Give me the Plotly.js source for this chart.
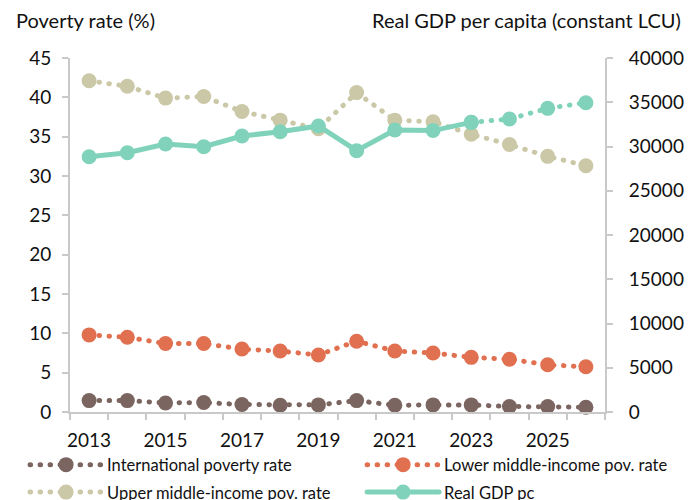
<!DOCTYPE html>
<html>
<head>
<meta charset="utf-8">
<script src="https://cdn.plot.ly/plotly-3.0.1.min.js"></script>
<style>
  html, body { margin: 0; padding: 0; background: #fff; }
  #chart { width: 698px; height: 500px; }
  path.js-line { stroke-linecap: round; }
</style>
</head>
<body>
<div id="chart"></div>
<script>
const years = [2013, 2014, 2015, 2016, 2017, 2018, 2019, 2020, 2021, 2022, 2023, 2024, 2025, 2026];
const intlPov = [1.45, 1.45, 1.15, 1.2, 0.95, 0.85, 0.9, 1.45, 0.85, 0.9, 0.9, 0.7, 0.7, 0.6];
const lowerMidPov = [9.8, 9.5, 8.7, 8.7, 8.0, 7.75, 7.25, 9.0, 7.75, 7.5, 6.95, 6.7, 6.0, 5.75];
const upperMidPov = [42.1, 41.4, 39.9, 40.1, 38.2, 37.1, 36.0, 40.6, 37.1, 36.9, 35.3, 34.0, 32.5, 31.3];
const gdpPc = [28850, 29300, 30280, 29980, 31190, 31670, 32320, 29530, 31860, 31800, 32730, 33110, 34310, 34950];
const lastActualYear = 2023;
const xTickYears = [2013, 2015, 2017, 2019, 2021, 2023, 2025];
const yLeftTicks = [0, 5, 10, 15, 20, 25, 30, 35, 40, 45];
const yRightTicks = [0, 5000, 10000, 15000, 20000, 25000, 30000, 35000, 40000];
const names = ['International poverty rate', 'Lower middle-income pov. rate', 'Upper middle-income pov. rate', 'Real GDP pc'];
const leftTitle = 'Poverty rate (%)';
const rightTitle = 'Real GDP per capita (constant LCU)';

const colors = { intl: '#7b6560', lower: '#e07050', upper: '#cbc8a8', gdp: '#80d3ba' };
const DOT = '0.5px,9.5px';
const FONT = 'Lato, "Open Sans", sans-serif';

const cut = years.indexOf(lastActualYear);
const actYears = years.slice(0, cut + 1), actGdp = gdpPc.slice(0, cut + 1);
const fcYears = years.slice(cut), fcGdp = gdpPc.slice(cut);

function dotted(y, name, color, legend, group) {
  return {
    x: years, y: y, name: name, type: 'scatter', mode: 'lines+markers', yaxis: 'y',
    legend: legend, legendgroup: group,
    line: { color: color, width: 5, dash: DOT },
    marker: { color: color, size: 15 },
    cliponaxis: false
  };
}

const traces = [
  dotted(intlPov, names[0], colors.intl, 'legend', 'a'),
  dotted(lowerMidPov, names[1], colors.lower, 'legend2', 'c'),
  dotted(upperMidPov, names[2], colors.upper, 'legend', 'b'),
  {
    x: actYears, y: actGdp, name: names[3], type: 'scatter', mode: 'lines+markers', yaxis: 'y2',
    legend: 'legend2', legendgroup: 'd',
    line: { color: colors.gdp, width: 5 }, marker: { color: colors.gdp, size: 15 }, cliponaxis: false
  },
  {
    x: fcYears, y: fcGdp, name: names[3], showlegend: false, type: 'scatter', mode: 'lines+markers', yaxis: 'y2',
    legend: 'legend2', legendgroup: 'd',
    line: { color: colors.gdp, width: 5, dash: DOT }, marker: { color: colors.gdp, size: 15 }, cliponaxis: false
  }
];

const axisGray = '#c9c9c9';
const legendBase = {
  orientation: 'v', xanchor: 'left', y: -0.1, yanchor: 'top',
  font: { size: 16.5, color: '#111' }, itemwidth: 72, tracegroupgap: 3,
  bgcolor: 'rgba(0,0,0,0)', traceorder: 'grouped'
};
const layout = {
  width: 698, height: 500,
  margin: { l: 70, r: 93, t: 58, b: 88, autoexpand: false },
  paper_bgcolor: '#fff', plot_bgcolor: '#fff',
  font: { family: FONT, size: 19, color: '#111' },
  showlegend: true,
  xaxis: {
    range: [2012.5, 2026.5], tickmode: 'array', tickvals: xTickYears, ticktext: xTickYears.map(String),
    ticks: '', ticklabelstandoff: 10, showgrid: false, zeroline: false, showline: true, linecolor: axisGray, linewidth: 2,
    minor: { tickmode: 'linear', tick0: 2012.5, dtick: 1, ticks: 'outside', ticklen: 6, tickwidth: 2, tickcolor: axisGray, showgrid: false },
    tickfont: { size: 19 }
  },
  yaxis: {
    range: [0, 45], tickmode: 'array', tickvals: yLeftTicks, ticks: 'outside', ticklen: 6, tickwidth: 2, tickcolor: axisGray,
    ticklabelstandoff: 7,
    showgrid: false, zeroline: false, showline: true, linecolor: axisGray, linewidth: 2, tickfont: { size: 19 }
  },
  yaxis2: {
    range: [0, 40000], overlaying: 'y', side: 'right', tickmode: 'array', tickvals: yRightTicks, tickformat: 'd',
    ticks: 'outside', ticklen: 6, tickwidth: 2, tickcolor: axisGray, ticklabelstandoff: 12,
    showgrid: false, zeroline: false, showline: true, linecolor: axisGray, linewidth: 2, tickfont: { size: 19 }
  },
  legend: Object.assign({}, legendBase, { x: -0.084 }),
  legend2: Object.assign({}, legendBase, { x: 0.546 }),
  annotations: [
    { text: leftTitle, xref: 'paper', yref: 'paper', x: -0.105, y: 1.107, xanchor: 'left', yanchor: 'middle', showarrow: false, font: { size: 20, color: '#111' } },
    { text: rightTitle, xref: 'paper', yref: 'paper', x: 1.146, y: 1.107, xanchor: 'right', yanchor: 'middle', showarrow: false, font: { size: 20, color: '#111' } }
  ]
};

Plotly.newPlot('chart', traces, layout, { displayModeBar: false, staticPlot: true });
</script>
</body>
</html>
